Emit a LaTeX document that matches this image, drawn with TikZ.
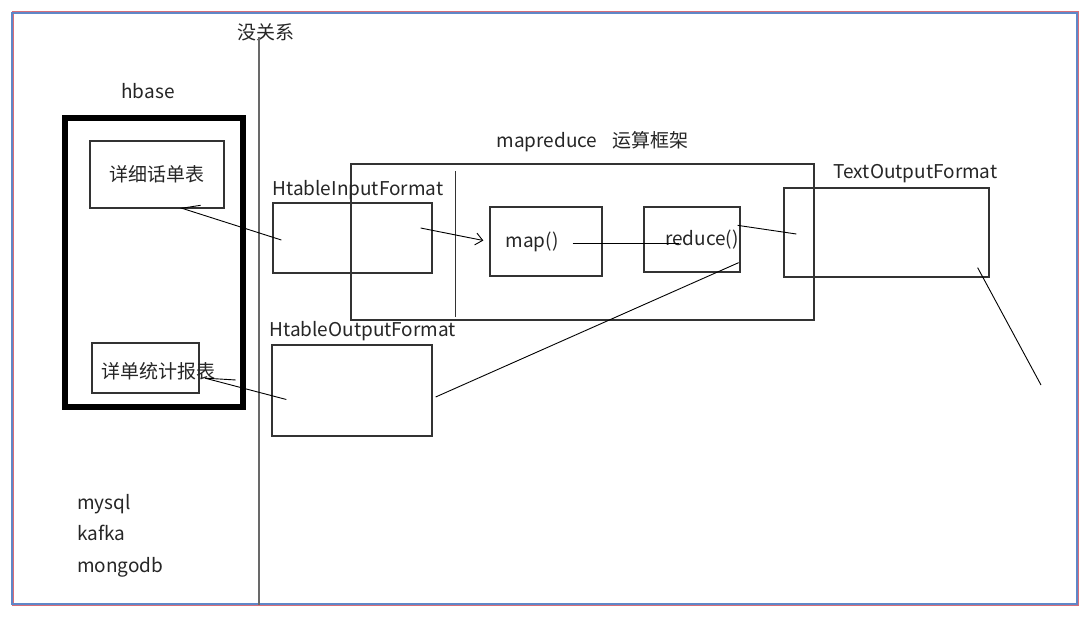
\documentclass[tikz,border=0pt]{standalone}
\usepackage{fontspec}
\setmainfont{Noto Sans CJK SC}
\usetikzlibrary{positioning,calc,arrows.meta}

\definecolor{frmblue}{RGB}{95,135,200}
\definecolor{frmred}{RGB}{215,110,120}
\definecolor{sepgray}{RGB}{105,105,105}

\tikzset{
    box/.style={draw=black!80, line width=1.3pt, inner sep=0pt},
    lbl/.style={text=black!85, font=\fontsize{19}{22}\selectfont, inner sep=0pt},
    con/.style={black, line width=0.9pt}
}

\begin{document}
\begin{tikzpicture}[x=1pt, y=-1pt]
    \useasboundingbox[fill=white] (0,0) rectangle (1090,624);
    % frame
    \draw[frmred, line width=1.2pt] (13,12) rectangle (1078,605);
    \draw[frmblue, line width=1.2pt] (12,13) rectangle (1077,604);

    % hbase side
    \node[lbl] (hbase) at (148,91) {hbase};
    \node[box, draw=black, line width=6pt, minimum width=178.5pt, minimum height=289pt] (hb) at (153.75,262.5) {};
    \node[box, lbl, minimum width=134pt, minimum height=67pt] (xxd) at (157,174.5) {详细话单表};
    \node[box, minimum width=107pt, minimum height=50pt,
          label={[lbl, xshift=13pt, yshift=-3pt]center:详单统计报表}] (tjb) at (145.5,368) {};
    \node[lbl, anchor=base west] (mysql) at (77,509) {mysql};
    \node[lbl, below=31pt of mysql.base west, anchor=base west] (kafka) {kafka};
    \node[lbl, below=32pt of kafka.base west, anchor=base west] (mongo) {mongodb};

    % divider
    \node[lbl] (mgx) at (266,32) {没关系};
    \coordinate (vtop) at (259,37);
    \coordinate (vbot) at (259,605);
    \draw[sepgray, line width=2pt] (vtop) -- (vbot);

    % mapreduce
    \node[lbl] (mrt) at (592.5,142) {mapreduce\hspace{15pt}运算框架};
    \node[box, minimum width=463pt, minimum height=156pt] (mr) at (582.5,242) {};
    \draw[box] ($(mr.north west)+(105,8)$) -- ($(mr.south west)+(105,-4)$);
    \node[box, minimum width=112pt, minimum height=69pt,
          label={[lbl, xshift=-14pt]center:map()}] (map) at (546,241.5) {};
    \node[box, minimum width=96pt, minimum height=65pt,
          label={[lbl, xshift=10pt]center:reduce()}] (red) at (692,239.5) {};

    % formats
    \node[box, minimum width=159pt, minimum height=70pt] (hin) at (352.5,238) {};
    \node[lbl, above right=2pt and 0pt of hin.north west] (hint) {HtableInputFormat};
    \node[box, minimum width=160pt, minimum height=91pt] (hout) at (352,390.5) {};
    \node[lbl, above right=3pt and -2pt of hout.north west] (houtt) {HtableOutputFormat};
    \node[box, minimum width=205pt, minimum height=89pt] (tof) at (886.5,232.5) {};
    \node[lbl, above right=4pt and 50pt of tof.north west] (toft) {TextOutputFormat};

    % connectors
    \draw[con, -{Straight Barb[right, length=17pt, width=17pt]}]
        ($(hin.west)+(9,2)$) -- ($(xxd.south)+(23,-1)$);
    \draw[con, -{Straight Barb[length=7pt, width=12pt]}]
        ($(hin.east)+(-12,-10)$) -- ($(map.west)+(-6,-1)$);
    \draw[con] ($(map.east)+(-30,1.5)$) -- ($(red.west)+(36,3.5)$);
    \draw[con] ($(red.north east)+(-3,19)$) -- ($(tof.west)+(13,1.5)$);
    \draw[con] ($(red.south east)+(-2,-10)$) -- ($(hout.east)+(3,6.5)$);
    \draw[con, -{Straight Barb[right, length=30pt, width=12pt]}]
        ($(hout.west)+(15,9)$) -- ($(tjb.east)+(1,9)$);
    \coordinate (tend) at (1041,385);
    \draw[con] ($(tof.south east)+(-12,-10)$) -- (tend);
\end{tikzpicture}
\end{document}
